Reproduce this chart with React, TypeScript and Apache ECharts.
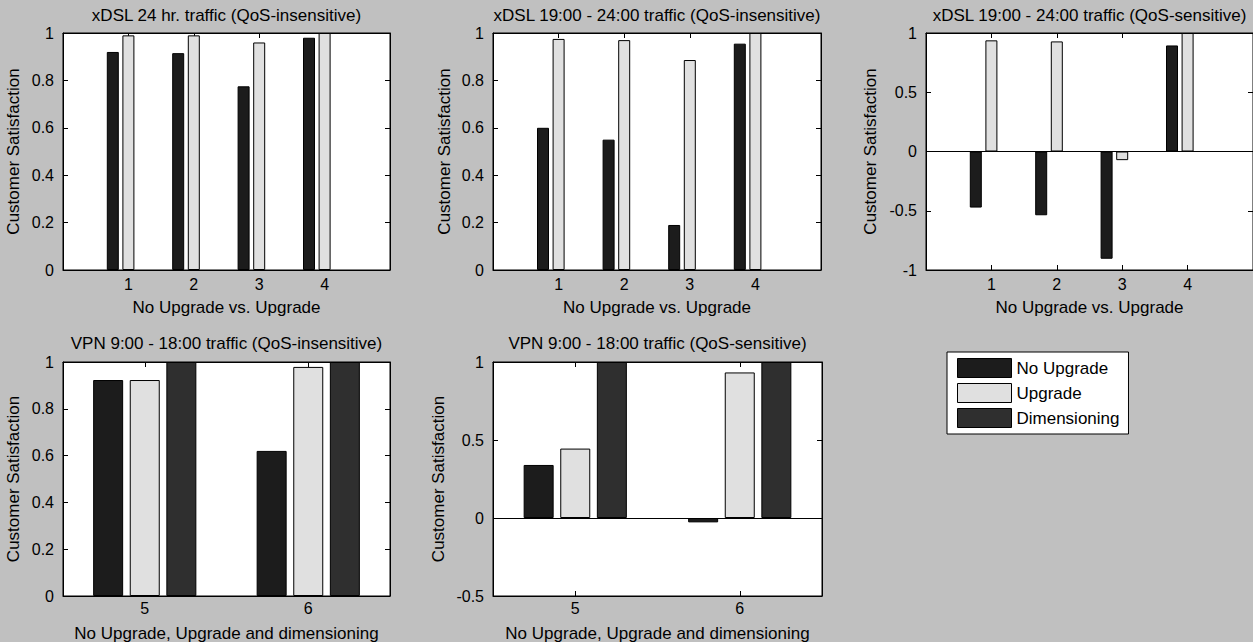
import React, { useEffect, useRef } from "react";
import * as echarts from "echarts";

const seriesNames = ["No Upgrade", "Upgrade", "Dimensioning"];
const xdslCats = [1, 2, 3, 4];
const vpnCats = [5, 6];

const xdsl24NoUp = [0.92, 0.915, 0.775, 0.98];
const xdsl24Up = [0.99, 0.99, 0.96, 1.0];
const xdsl24Dim = [0, 0, 0, 0];

const xdslEveInsNoUp = [0.6, 0.55, 0.19, 0.955];
const xdslEveInsUp = [0.975, 0.97, 0.886, 1.0];
const xdslEveInsDim = [0, 0, 0, 0];

const xdslEveSensNoUp = [-0.473, -0.538, -0.905, 0.895];
const xdslEveSensUp = [0.938, 0.929, -0.073, 1.0];
const xdslEveSensDim = [0, 0, 0, 0];

const vpnInsNoUp = [0.923, 0.62];
const vpnInsUp = [0.923, 0.979];
const vpnInsDim = [1.0, 1.0];

const vpnSensNoUp = [0.34, -0.028];
const vpnSensUp = [0.445, 0.933];
const vpnSensDim = [1.0, 1.0];

const titles = [
  "xDSL 24 hr. traffic (QoS-insensitive)",
  "xDSL 19:00 - 24:00 traffic (QoS-insensitive)",
  "xDSL 19:00 - 24:00 traffic (QoS-sensitive)",
  "VPN 9:00 - 18:00 traffic (QoS-insensitive)",
  "VPN 9:00 - 18:00 traffic (QoS-sensitive)",
];
const xLabels = [
  "No Upgrade vs. Upgrade",
  "No Upgrade vs. Upgrade",
  "No Upgrade vs. Upgrade",
  "No Upgrade, Upgrade and dimensioning",
  "No Upgrade, Upgrade and dimensioning",
];
const yLabel = "Customer Satisfaction";

const colors = ["#1c1c1c", "#e0e0e0", "#2f2f2f"];
const FONT = "'Liberation Sans', Arial, Helvetica, sans-serif";

type Panel = {
  left: number; top: number; width: number; height: number;
  cats: number[]; vals: number[][];
  xMin: number; xMax: number;
  yMin: number; yMax: number; yInt: number;
  barWidth: number; barGap: string; baseline: boolean;
  titleY: number; xLabelY: number; yLabelX: number; labelMargin: number;
};

const panels: Panel[] = [
  { left: 63, top: 33, width: 327, height: 237, cats: xdslCats, vals: [xdsl24NoUp, xdsl24Up, xdsl24Dim],
    xMin: 0, xMax: 5, yMin: 0, yMax: 1, yInt: 0.2, barWidth: 12, barGap: "30%", baseline: false,
    titleY: 15, xLabelY: 307, yLabelX: 13, labelMargin: 6 },
  { left: 493, top: 33, width: 328, height: 237, cats: xdslCats, vals: [xdslEveInsNoUp, xdslEveInsUp, xdslEveInsDim],
    xMin: 0, xMax: 5, yMin: 0, yMax: 1, yInt: 0.2, barWidth: 12, barGap: "30%", baseline: false,
    titleY: 15, xLabelY: 307, yLabelX: 444, labelMargin: 6 },
  { left: 926, top: 33, width: 327, height: 237, cats: xdslCats, vals: [xdslEveSensNoUp, xdslEveSensUp, xdslEveSensDim],
    xMin: 0, xMax: 5, yMin: -1, yMax: 1, yInt: 0.5, barWidth: 12, barGap: "30%", baseline: true,
    titleY: 15, xLabelY: 307, yLabelX: 870, labelMargin: 6 },
  { left: 63, top: 362, width: 327, height: 234, cats: vpnCats, vals: [vpnInsNoUp, vpnInsUp, vpnInsDim],
    xMin: 4.5, xMax: 6.5, yMin: 0, yMax: 1, yInt: 0.2, barWidth: 30, barGap: "22%", baseline: false,
    titleY: 343, xLabelY: 633, yLabelX: 13, labelMargin: 4 },
  { left: 493, top: 362, width: 329, height: 234, cats: vpnCats, vals: [vpnSensNoUp, vpnSensUp, vpnSensDim],
    xMin: 4.5, xMax: 6.5, yMin: -0.5, yMax: 1, yInt: 0.5, barWidth: 30, barGap: "22%", baseline: true,
    titleY: 343, xLabelY: 633, yLabelX: 438, labelMargin: 4 },
];

function buildOption() {
  const grid: any[] = [];
  const xAxis: any[] = [];
  const yAxis: any[] = [];
  const series: any[] = [];
  const graphic: any[] = [];
  const line = { show: true, lineStyle: { color: "#000", width: 1 } };
  const tickText = { color: "#000", fontSize: 16, fontFamily: FONT };
  const labelFont = `17px ${FONT}`;

  panels.forEach((p, i) => {
    grid.push({
      left: p.left, top: p.top, width: p.width, height: p.height,
      show: true, backgroundColor: "#fff", borderColor: "#000", borderWidth: 1,
      containLabel: false,
    });
    xAxis.push({
      type: "value", gridIndex: i, position: "bottom", min: p.xMin, max: p.xMax,
      axisLine: { ...line, onZero: false },
      axisTick: { show: true, inside: true, length: 5, customValues: p.cats, lineStyle: { color: "#000" } },
      axisLabel: { ...tickText, margin: p.labelMargin, customValues: p.cats },
      splitLine: { show: false },
    });
    xAxis.push({
      type: "value", gridIndex: i, position: "top", min: p.xMin, max: p.xMax,
      axisLine: { ...line, onZero: false },
      axisTick: { show: true, inside: true, length: 5, customValues: p.cats, lineStyle: { color: "#000" } },
      axisLabel: { show: false },
      splitLine: { show: false },
    });
    yAxis.push({
      type: "value", gridIndex: i, position: "left", min: p.yMin, max: p.yMax, interval: p.yInt,
      axisLine: { ...line, onZero: false },
      axisTick: { show: true, inside: true, length: 5, lineStyle: { color: "#000" } },
      axisLabel: { ...tickText, margin: 9 },
      splitLine: { show: false },
    });
    yAxis.push({
      type: "value", gridIndex: i, position: "right", min: p.yMin, max: p.yMax, interval: p.yInt,
      axisLine: { ...line, onZero: false },
      axisTick: { show: true, inside: true, length: 5, lineStyle: { color: "#000" } },
      axisLabel: { show: false },
      splitLine: { show: false },
    });
    p.vals.forEach((vals, s) => {
      const ser: any = {
        type: "bar",
        name: seriesNames[s],
        xAxisIndex: i * 2,
        yAxisIndex: i * 2,
        data: p.cats.map((c, k) =>
          vals[k] === 0
            ? { value: [c, vals[k]], itemStyle: { borderWidth: 0, opacity: 0 } }
            : { value: [c, vals[k]] }
        ),
        barWidth: p.barWidth,
        barGap: p.barGap,
        itemStyle: { color: colors[s], borderColor: "#000", borderWidth: 1 },
        silent: true,
      };
      if (p.baseline && s === 0) {
        ser.markLine = {
          silent: true, symbol: "none", label: { show: false },
          lineStyle: { color: "#000", width: 1, type: "solid" },
          data: [{ yAxis: 0 }],
        };
      }
      series.push(ser);
    });
    const cx = p.left + p.width / 2;
    const cy = p.top + p.height / 2;
    graphic.push({
      type: "text", x: cx, y: p.titleY,
      style: { text: titles[i], fill: "#000", font: labelFont, textAlign: "center", textVerticalAlign: "middle" },
    });
    graphic.push({
      type: "text", x: cx, y: p.xLabelY,
      style: { text: xLabels[i], fill: "#000", font: labelFont, textAlign: "center", textVerticalAlign: "middle" },
    });
    graphic.push({
      type: "text", x: p.yLabelX, y: cy, rotation: Math.PI / 2,
      style: { text: yLabel, fill: "#000", font: labelFont, textAlign: "center", textVerticalAlign: "middle" },
    });
  });

  return {
    animation: false,
    backgroundColor: "#c0c0c0",
    grid, xAxis, yAxis, series, graphic,
    legend: {
      data: seriesNames,
      orient: "vertical",
      left: 947, top: 352,
      itemWidth: 54, itemHeight: 19, itemGap: 5,
      icon: "rect",
      backgroundColor: "#fff", borderColor: "#000", borderWidth: 1, borderRadius: 0,
      padding: [6, 9, 6, 10],
      selectedMode: false,
      textStyle: { color: "#000", fontSize: 17, fontFamily: FONT, padding: [0, 0, 0, 0] },
      itemStyle: { borderColor: "#000", borderWidth: 1, opacity: 1 },
    },
  };
}

export default function App() {
  const ref = useRef<HTMLDivElement>(null);
  useEffect(() => {
    if (!ref.current) return;
    const chart = echarts.init(ref.current, undefined, { renderer: "svg" });
    chart.setOption(buildOption() as any);
    return () => chart.dispose();
  }, []);
  return (
    <div
      ref={ref}
      style={{ position: "absolute", left: 0, top: 0, width: 1253, height: 642 }}
    />
  );
}
